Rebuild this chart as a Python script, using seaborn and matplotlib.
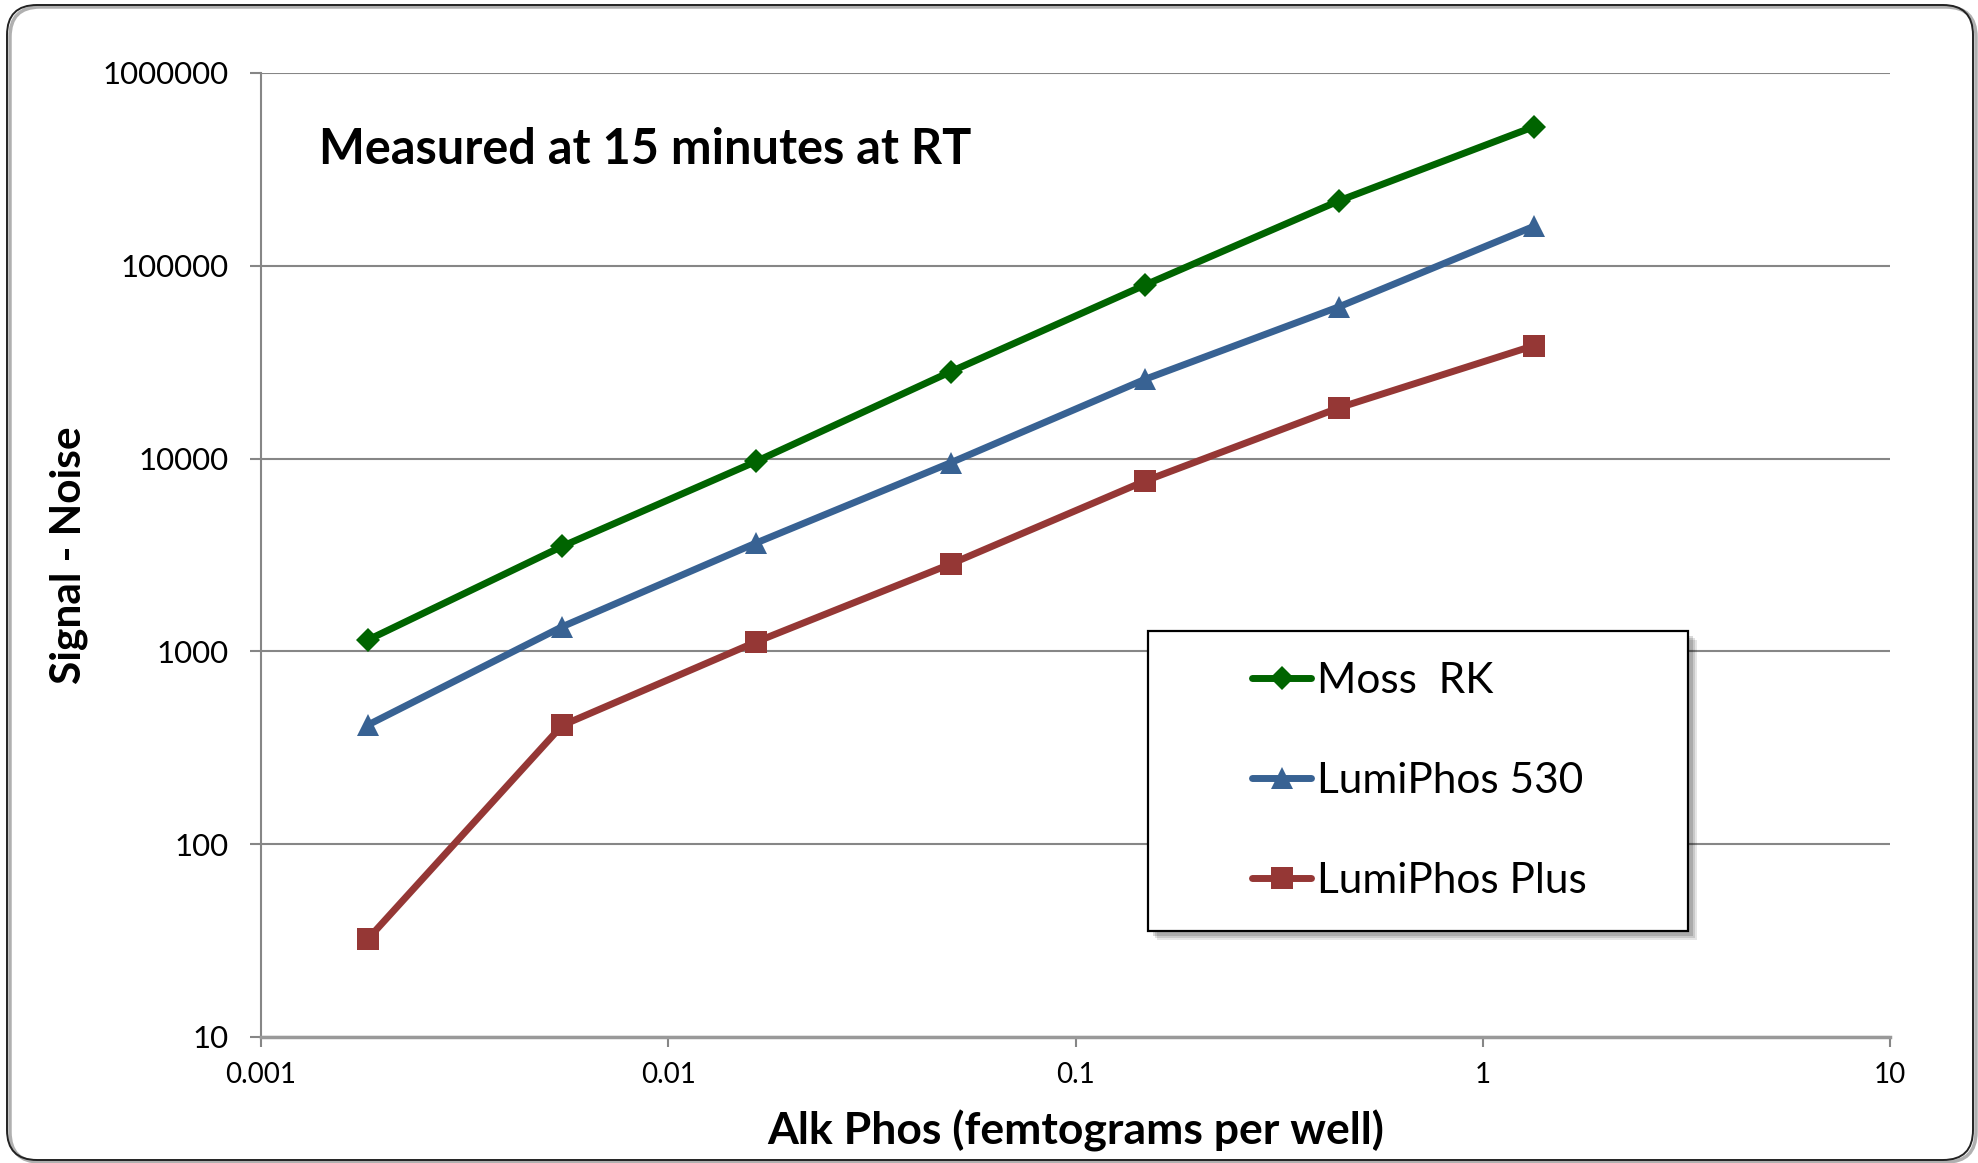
import numpy as np
import pandas as pd
import matplotlib
matplotlib.use("Agg")
import matplotlib.pyplot as plt
import matplotlib.ticker as mticker
from matplotlib.patches import FancyBboxPatch, Rectangle
from matplotlib.transforms import IdentityTransform
import seaborn as sns

# Alk Phos amount per well (femtograms), 3-fold dilution series
conc_fg = [0.001829, 0.005487, 0.01646, 0.04938, 0.1481, 0.4444, 1.3333]

# Signal - Noise readings at 15 min, RT
moss_rk = [1146, 3505, 9680, 28240, 79500, 217700, 526000]
lumiphos_530 = [415, 1342, 3655, 9520, 25780, 61380, 160000]
lumiphos_plus = [32.2, 413, 1122, 2840, 7650, 18370, 38500]

series_names = ["Moss  RK", "LumiPhos 530", "LumiPhos Plus"]
series_values = [moss_rk, lumiphos_530, lumiphos_plus]
series_colors = ["#006400", "#386293", "#953735"]
series_markers = ["D", "^", "s"]
series_msize = [12.5, 16.5, 16]

x_ticks = [0.001, 0.01, 0.1, 1, 10]
x_ticklabels = ["0.001", "0.01", "0.1", "1", "10"]
y_ticks = [10, 100, 1000, 10000, 100000, 1000000]
y_ticklabels = ["10", "100", "1000", "10000", "100000", "1000000"]

df = pd.concat(
    [pd.DataFrame({"conc": conc_fg, "signal": vals, "series": name})
     for name, vals in zip(series_names, series_values)],
    ignore_index=True,
)

sns.set_theme(style="white")
plt.rcParams["font.family"] = ["Lato", "DejaVu Sans"]
plt.rcParams["text.color"] = "black"
plt.rcParams["axes.labelcolor"] = "black"

W, H = 1978, 1163
fig, ax = plt.subplots(figsize=(W / 100, H / 100), dpi=100)
fig.subplots_adjust(left=261 / W, right=1890 / W, top=1 - 73 / H, bottom=1 - 1037 / H)

grid_color = "#868686"

for name, color, marker, ms in zip(series_names, series_colors, series_markers, series_msize):
    sns.lineplot(
        data=df[df["series"] == name], x="conc", y="signal", ax=ax,
        color=color, marker=marker, markersize=ms, markeredgewidth=0,
        linewidth=5, label=name, zorder=3,
    )

ax.set_xscale("log")
ax.set_yscale("log")
ax.set_xlim(0.001, 10)
ax.set_ylim(10, 1000000)
ax.xaxis.set_major_locator(mticker.FixedLocator(x_ticks))
ax.xaxis.set_major_formatter(mticker.FixedFormatter(x_ticklabels))
ax.yaxis.set_major_locator(mticker.FixedLocator(y_ticks))
ax.yaxis.set_major_formatter(mticker.FixedFormatter(y_ticklabels))
ax.xaxis.set_minor_locator(mticker.NullLocator())
ax.yaxis.set_minor_locator(mticker.NullLocator())

ax.grid(axis="y", color=grid_color, linewidth=1.5, zorder=1)
ax.grid(axis="x", visible=False)
for side in ["top", "right"]:
    ax.spines[side].set_visible(False)
ax.spines["left"].set_color(grid_color)
ax.spines["left"].set_linewidth(1.5)
ax.spines["bottom"].set_color("#999999")
ax.spines["bottom"].set_linewidth(2.5)

ax.tick_params(axis="y", which="major", left=True, length=8, width=1.5, color=grid_color,
               pad=15, labelsize=22.5, labelcolor="black")
ax.tick_params(axis="x", which="major", bottom=True, length=7, width=1.5, color=grid_color,
               pad=11, labelsize=20, labelcolor="black")

ax.set_xlabel("Alk Phos (femtograms per well)", fontsize=32, fontweight="bold", va="center")
ax.xaxis.set_label_coords(0.5, (1037 - 1131) / 964)
ax.set_ylabel("Signal - Noise", fontsize=30.5, fontweight="bold", va="center")
ax.yaxis.set_label_coords((69 - 261) / 1629, 0.5)

fig.text(319 / W, 1 - 150 / H, "Measured at 15 minutes at RT", fontsize=35,
         fontweight="bold", va="center", ha="left")

# legend: frame drawn as a patch, entries from the library legend
lx0, lx1, ly0, ly1 = 1148, 1688, 631, 931
for off, a in [(9, 0.10), (7, 0.12), (5, 0.15)]:
    ax.add_patch(Rectangle((lx0 + off, H - ly1 - off), lx1 - lx0, ly1 - ly0,
                           transform=IdentityTransform(), facecolor="#000000",
                           alpha=a, edgecolor="none", zorder=5, clip_on=False))
ax.add_patch(Rectangle((lx0, H - ly1), lx1 - lx0, ly1 - ly0,
                       transform=IdentityTransform(), facecolor="white",
                       edgecolor="black", linewidth=1.6, zorder=6, clip_on=False))
leg = ax.legend(loc="center left", bbox_to_anchor=(1231 / W, 1 - 781 / H),
                bbox_transform=fig.transFigure, frameon=False, fontsize=30.5,
                handlelength=1.4, handletextpad=0.12, labelspacing=1.46,
                borderpad=0)
leg.set_zorder(10)

# rounded outer chart border
fig.patches.append(FancyBboxPatch((10, 1), W - 12, H - 8,
                                  boxstyle="round,pad=0,rounding_size=30",
                                  transform=IdentityTransform(), facecolor="none",
                                  edgecolor="#b0b0b0", linewidth=2.5, zorder=0))
fig.patches.append(FancyBboxPatch((7, 3), W - 12, H - 8,
                                  boxstyle="round,pad=0,rounding_size=30",
                                  transform=IdentityTransform(), facecolor="none",
                                  edgecolor="#222222", linewidth=1.4, zorder=0))

fig.savefig("out.png", dpi=100)
